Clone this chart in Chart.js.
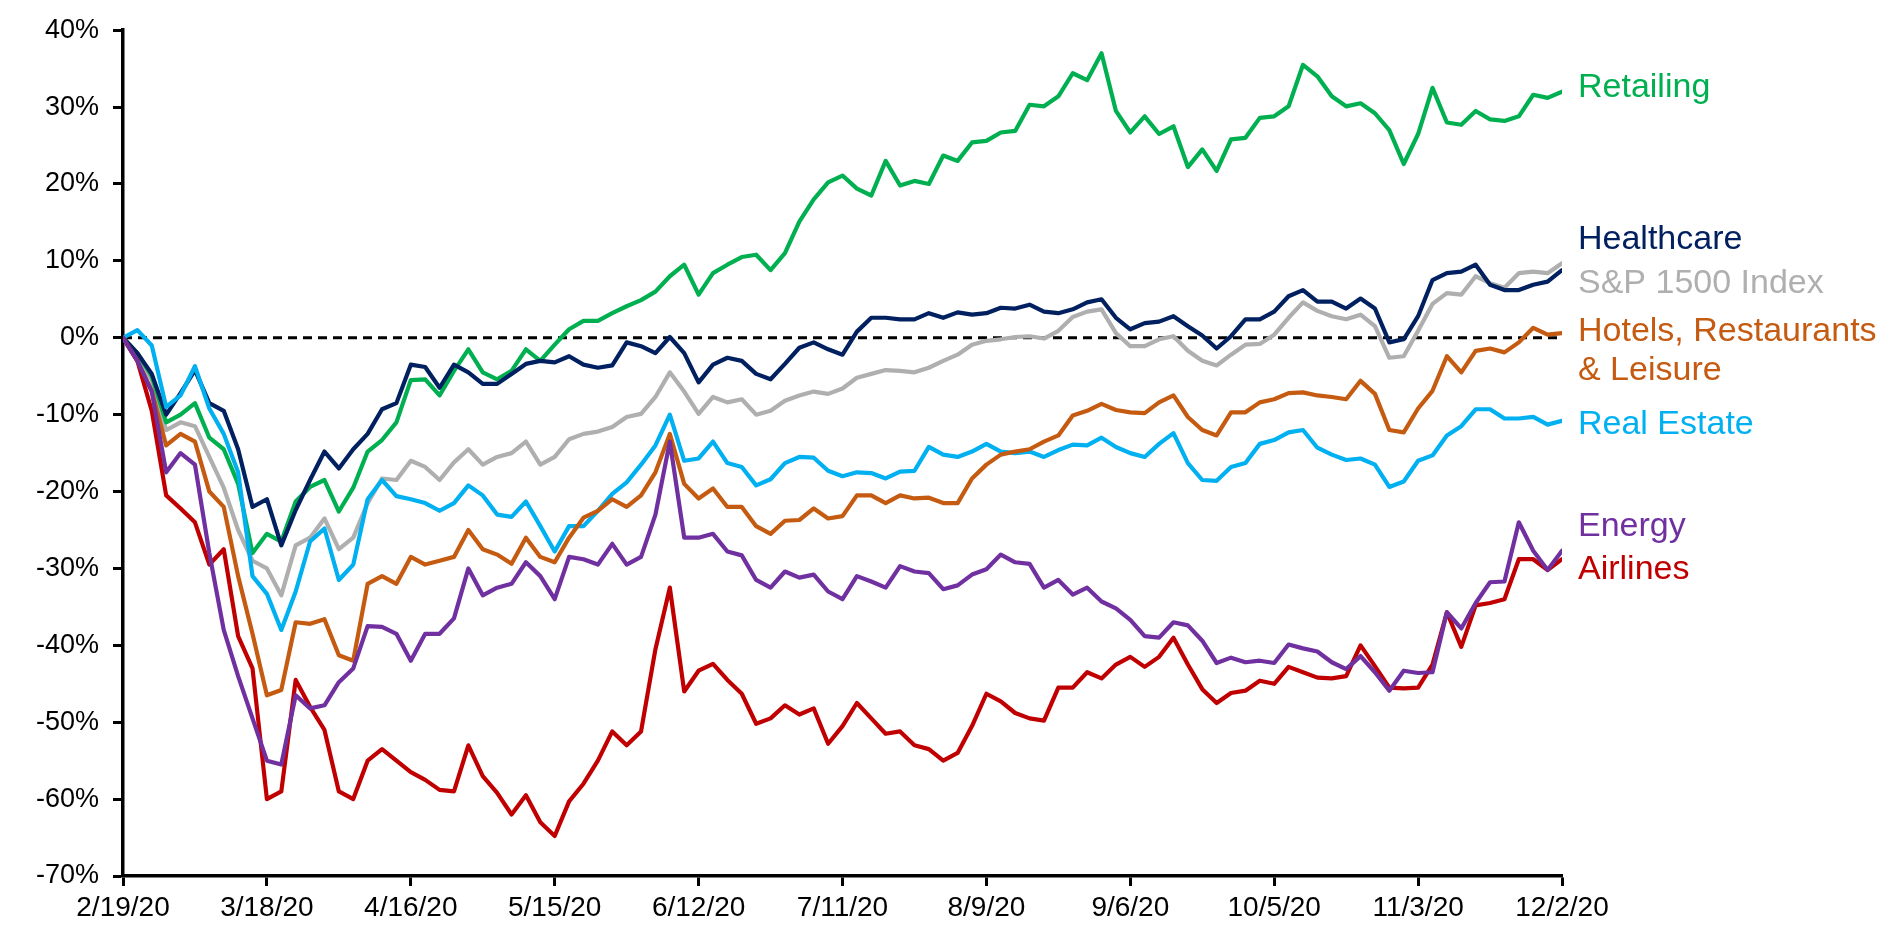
<!DOCTYPE html>
<html>
<head>
<meta charset="utf-8">
<script src="https://cdn.jsdelivr.net/npm/chart.js@4.4.1/dist/chart.umd.min.js"></script>
<style>
  html, body { margin: 0; padding: 0; background: #ffffff; }
  #wrap { width: 1904px; height: 934px; }
</style>
</head>
<body>
<div id="wrap"><canvas id="chart" width="1904" height="934"></canvas></div>
<script>
// Cumulative return since 2/19/20 (%), one value every other trading day, 2/19/20 .. 12/2/20
const dateTicks = ['2/19/20', '3/18/20', '4/16/20', '5/15/20', '6/12/20', '7/11/20',
                   '8/9/20', '9/6/20', '10/5/20', '11/3/20', '12/2/20'];
const tradingDaysPerTick = 20;
const tradingDaysPerSample = 2;

const retailing = [
  0, -2, -5, -11, -10, -8.5, -13, -14.5, -19, -28,
  -25.5, -26.5, -21.3, -19.4, -18.5, -22.6, -19.5, -14.8, -13.3, -11,
  -5.5, -5.4, -7.5, -4.3, -1.5, -4.5, -5.4, -4.3, -1.5, -3.0,
  -0.9, 1.1, 2.2, 2.2, 3.2, 4.1, 4.9, 6.0, 8.0, 9.5,
  5.6, 8.4, 9.5, 10.5, 10.8, 8.8, 11.0, 15.1, 18.0, 20.2,
  21.1, 19.4, 18.5, 23.0, 19.8, 20.4, 20.0, 23.7, 23.0, 25.4,
  25.6, 26.7, 26.9, 30.3, 30.1, 31.4, 34.4, 33.5, 37.0, 29.5,
  26.7, 28.8, 26.5, 27.5, 22.2, 24.5, 21.7, 25.8, 26.0, 28.6,
  28.8, 30.1, 35.5, 34.0, 31.4, 30.1, 30.5, 29.2, 27.0, 22.6,
  26.5, 32.5, 28.0, 27.7, 29.5, 28.4, 28.2, 28.8, 31.6, 31.2, 32.0
];
const healthcare = [
  0, -2.0, -4.7, -10, -7.2, -4.2, -8.5, -9.5, -14.5, -22,
  -21, -27, -22.4, -18.5, -14.8, -17, -14.5, -12.5, -9.3, -8.5,
  -3.5, -3.8, -6.5, -3.5, -4.5, -6.0, -6.0, -4.7, -3.4, -3.0,
  -3.2, -2.4, -3.5, -3.9, -3.6, -0.6, -1.1, -2.0, 0.1, -2.0,
  -5.8, -3.5, -2.6, -3.0, -4.7, -5.4, -3.4, -1.3, -0.6, -1.5,
  -2.2, 0.8, 2.6, 2.6, 2.4, 2.4, 3.2, 2.6, 3.3, 3.0,
  3.2, 3.9, 3.8, 4.3, 3.4, 3.2, 3.7, 4.6, 5.0, 2.6,
  1.1, 1.9, 2.1, 2.8, 1.5, 0.3, -1.4, 0.2, 2.4, 2.4,
  3.4, 5.4, 6.2, 4.7, 4.7, 3.8, 5.1, 3.8, -0.6, -0.2,
  2.8, 7.5, 8.4, 8.6, 9.5, 6.9, 6.2, 6.2, 6.9, 7.3, 8.8
];
const sp1500 = [
  0, -2.5, -5.5, -12, -11, -11.5, -15.5, -19.5, -25, -29,
  -30, -33.5, -27, -26, -23.5, -27.5, -26, -21.5, -18.3, -18.5,
  -16, -16.8, -18.5, -16.2, -14.5, -16.5, -15.5, -15, -13.5, -16.5,
  -15.5, -13.2, -12.5, -12.2, -11.6, -10.3, -9.9, -7.7, -4.5, -7.0,
  -9.9, -7.7, -8.4, -8.0, -10.0, -9.5, -8.2, -7.5, -7.0, -7.3,
  -6.6, -5.2, -4.7, -4.2, -4.3, -4.5, -3.9, -3.0, -2.2, -0.9,
  -0.4, -0.2, 0.1, 0.2, -0.1, 0.9, 2.7, 3.4, 3.7, 0.6,
  -1.1, -1.1, -0.2, 0.2, -1.7, -3.0, -3.6, -2.2, -0.9, -0.8,
  0.4, 2.6, 4.6, 3.5, 2.8, 2.4, 3.0, 1.5, -2.6, -2.4,
  0.9, 4.4, 5.8, 5.6, 8.0, 7.1, 6.5, 8.4, 8.6, 8.4, 9.7
];
const hotels = [
  0, -3, -6.9, -14, -12.5, -13.5, -20, -22, -31, -38.5,
  -46.5, -45.8, -37, -37.2, -36.6, -41.3, -42, -32, -31, -32,
  -28.5, -29.5, -29, -28.5, -25, -27.5, -28.2, -29.4, -26, -28.5,
  -29.2, -26.0, -23.4, -22.5, -21.0, -22.0, -20.5, -17.5, -12.5, -19,
  -20.9, -19.6, -22, -22, -24.5, -25.5, -23.8, -23.7, -22.2, -23.5,
  -23.2, -20.5, -20.5, -21.5, -20.5, -20.9, -20.8, -21.5, -21.5, -18.3,
  -16.5, -15.2, -14.8, -14.5, -13.5, -12.7, -10.1, -9.5, -8.6, -9.4,
  -9.7, -9.8, -8.4, -7.5, -10.3, -12.0, -12.7, -9.7, -9.7, -8.4,
  -8.0, -7.2, -7.1, -7.5, -7.7, -8.0, -5.6, -7.3, -12.0, -12.3,
  -9.2, -6.9, -2.4, -4.5, -1.7, -1.4, -1.9, -0.6, 1.3, 0.4, 0.6
];
const realEstate = [
  0, 1.0, -1.0, -9.0, -7.5, -3.7, -9.2, -12.5, -17.5, -31,
  -33.3, -38, -33, -26.5, -24.8, -31.5, -29.5, -21, -18.5, -20.6,
  -21, -21.5, -22.5, -21.5, -19.2, -20.5, -23, -23.3, -21.3, -24.5,
  -27.8, -24.5, -24.5, -22.5, -20.3, -18.8, -16.5, -14.0, -10.0, -16,
  -15.7, -13.5, -16.3, -16.8, -19.2, -18.4, -16.3, -15.5, -15.6, -17.3,
  -18.0, -17.5, -17.6, -18.3, -17.4, -17.3, -14.2, -15.2, -15.5, -14.8,
  -13.8, -14.8, -15.0, -14.8, -15.5, -14.6, -13.9, -14.0, -13.0, -14.2,
  -15.0, -15.5, -13.8, -12.4, -16.3, -18.5, -18.6, -16.8, -16.3, -13.8,
  -13.3, -12.3, -12.0, -14.3, -15.2, -15.9, -15.7, -16.5, -19.4, -18.7,
  -16.0, -15.3, -12.7, -11.5, -9.3, -9.3, -10.5, -10.5, -10.3, -11.3, -10.8
];
const energy = [
  0, -3, -7, -17.5, -15, -16.5, -28, -38, -44, -49.5,
  -55, -55.5, -46.5, -48.2, -47.8, -44.8, -43, -37.5, -37.6, -38.5,
  -42, -38.5, -38.5, -36.5, -30, -33.5, -32.5, -32, -29.2, -31,
  -34, -28.5, -28.8, -29.5, -26.8, -29.5, -28.5, -23.0, -13.5, -26,
  -26, -25.5, -27.8, -28.3, -31.5, -32.5, -30.4, -31.2, -30.8, -33,
  -34, -31, -31.7, -32.5, -29.7, -30.4, -30.6, -32.7, -32.2, -30.8,
  -30.1, -28.2, -29.2, -29.4, -32.5, -31.5, -33.4, -32.5, -34.3, -35.2,
  -36.7, -38.8, -39.0, -37.0, -37.4, -39.4, -42.3, -41.6, -42.2, -42.0,
  -42.3, -39.9, -40.4, -40.8, -42.2, -43.1, -41.4, -43.5, -45.9, -43.3,
  -43.6, -43.5, -35.7, -37.8, -34.5, -31.8, -31.7, -24.0, -27.7, -30.2, -27.7
];
const airlines = [
  0, -3, -9.5, -20.5, -22.2, -24, -29.5, -27.5, -38.8, -43,
  -60, -59, -44.5, -48, -51, -59, -60, -55, -53.5, -55,
  -56.5, -57.5, -58.8, -59, -53, -57, -59.2, -62, -59.5, -63,
  -64.8, -60.3, -58, -55, -51.2, -53, -51.2, -40.5, -32.5, -46,
  -43.3, -42.4, -44.5, -46.3, -50.2, -49.5, -47.8, -49, -48.2, -52.8,
  -50.5, -47.5, -49.5, -51.5, -51.2, -53, -53.5, -55.0, -54.0, -50.5,
  -46.3, -47.3, -48.8, -49.5, -49.8, -45.5, -45.5, -43.5, -44.3, -42.5,
  -41.5, -42.8, -41.5, -39, -42.5, -45.7, -47.5, -46.2, -45.9, -44.6,
  -45.0, -42.8, -43.5, -44.2, -44.3, -44.0, -40, -42.7, -45.5, -45.6,
  -45.5, -42.5, -35.7, -40.2, -34.8, -34.5, -34.0, -28.8, -28.8, -30.2, -28.8
];

const COLORS = {
  retailing: '#00B050',
  healthcare: '#002060',
  sp1500: '#AFAFAF',
  hotels: '#C55A11',
  realEstate: '#00B0F0',
  energy: '#7030A0',
  airlines: '#C00000'
};

const FONT = "'Liberation Sans', Arial, sans-serif";

// first entry is painted last (on top)
const seriesList = [
  { name: 'Energy', values: energy, color: COLORS.energy },
  { name: 'Airlines', values: airlines, color: COLORS.airlines },
  { name: 'Hotels, Restaurants & Leisure', values: hotels, color: COLORS.hotels },
  { name: 'Real Estate', values: realEstate, color: COLORS.realEstate },
  { name: 'Healthcare', values: healthcare, color: COLORS.healthcare },
  { name: 'Retailing', values: retailing, color: COLORS.retailing },
  { name: 'S&P 1500 Index', values: sp1500, color: COLORS.sp1500 }
];

// end-of-line captions, anchored to a level on the value axis
const endLabels = [
  { lines: ['Retailing'], color: COLORS.retailing, at: 32.5 },
  { lines: ['Healthcare'], color: COLORS.healthcare, at: 12.7 },
  { lines: ['S&P 1500 Index'], color: COLORS.sp1500, at: 7.1 },
  { lines: ['Hotels, Restaurants', '& Leisure'], color: COLORS.hotels, at: 0.8 },
  { lines: ['Real Estate'], color: COLORS.realEstate, at: -11.3 },
  { lines: ['Energy'], color: COLORS.energy, at: -24.5 },
  { lines: ['Airlines'], color: COLORS.airlines, at: -30.1 }
];

const datasets = seriesList.map(s => ({
  label: s.name,
  data: s.values.map((v, i) => ({ x: i * tradingDaysPerSample, y: v })),
  borderColor: s.color,
  backgroundColor: s.color,
  borderWidth: 4.2,
  pointRadius: 0,
  tension: 0,
  fill: false,
  borderJoinStyle: 'round',
  borderCapStyle: 'round'
}));

const zeroLine = {
  id: 'zeroLine',
  beforeDatasetsDraw(chart) {
    const { ctx, chartArea, scales } = chart;
    const y = scales.y.getPixelForValue(0);
    ctx.save();
    ctx.strokeStyle = '#000000';
    ctx.lineWidth = 3;
    ctx.setLineDash([9, 6]);
    ctx.beginPath();
    ctx.moveTo(chartArea.left, y);
    ctx.lineTo(chartArea.right, y);
    ctx.stroke();
    ctx.restore();
  }
};

const lineCaptions = {
  id: 'lineCaptions',
  afterDraw(chart) {
    const { ctx, chartArea, scales } = chart;
    ctx.save();
    ctx.font = '34px ' + FONT;
    ctx.textAlign = 'left';
    ctx.textBaseline = 'middle';
    endLabels.forEach(lab => {
      const y0 = scales.y.getPixelForValue(lab.at);
      lab.lines.forEach((line, k) => {
        ctx.fillStyle = lab.color;
        ctx.fillText(line, chartArea.right + 16, y0 + k * 39);
      });
    });
    ctx.restore();
  }
};

const tickValues = dateTicks.map((_, i) => i * tradingDaysPerTick);

new Chart(document.getElementById('chart'), {
  type: 'line',
  data: { datasets },
  options: {
    responsive: false,
    animation: false,
    layout: { padding: { top: 23, right: 342, bottom: 0, left: 0 } },
    plugins: {
      legend: { display: false },
      tooltip: { enabled: false }
    },
    scales: {
      x: {
        type: 'linear',
        min: 0,
        max: tickValues[tickValues.length - 1],
        afterBuildTicks(scale) {
          scale.ticks = tickValues.map(v => ({ value: v }));
        },
        afterFit(scale) { scale.height = 58; },
        ticks: {
          autoSkip: false,
          maxRotation: 0,
          padding: 5,
          color: '#000000',
          font: { family: FONT, size: 28 },
          callback: (value, index) => dateTicks[index]
        },
        grid: {
          drawOnChartArea: false,
          drawTicks: true,
          tickLength: 10,
          tickWidth: 3,
          tickColor: '#000000'
        },
        border: { display: true, color: '#000000', width: 3.5 }
      },
      y: {
        type: 'linear',
        min: -70,
        max: 40,
        afterFit(scale) { scale.width = 123; },
        ticks: {
          stepSize: 10,
          padding: 14,
          color: '#000000',
          font: { family: FONT, size: 27 },
          callback: v => v + '%'
        },
        grid: {
          drawOnChartArea: false,
          drawTicks: true,
          tickLength: 10,
          tickWidth: 3,
          tickColor: '#000000'
        },
        border: { display: true, color: '#000000', width: 3.5 }
      }
    }
  },
  plugins: [zeroLine, lineCaptions]
});
</script>
</body>
</html>
